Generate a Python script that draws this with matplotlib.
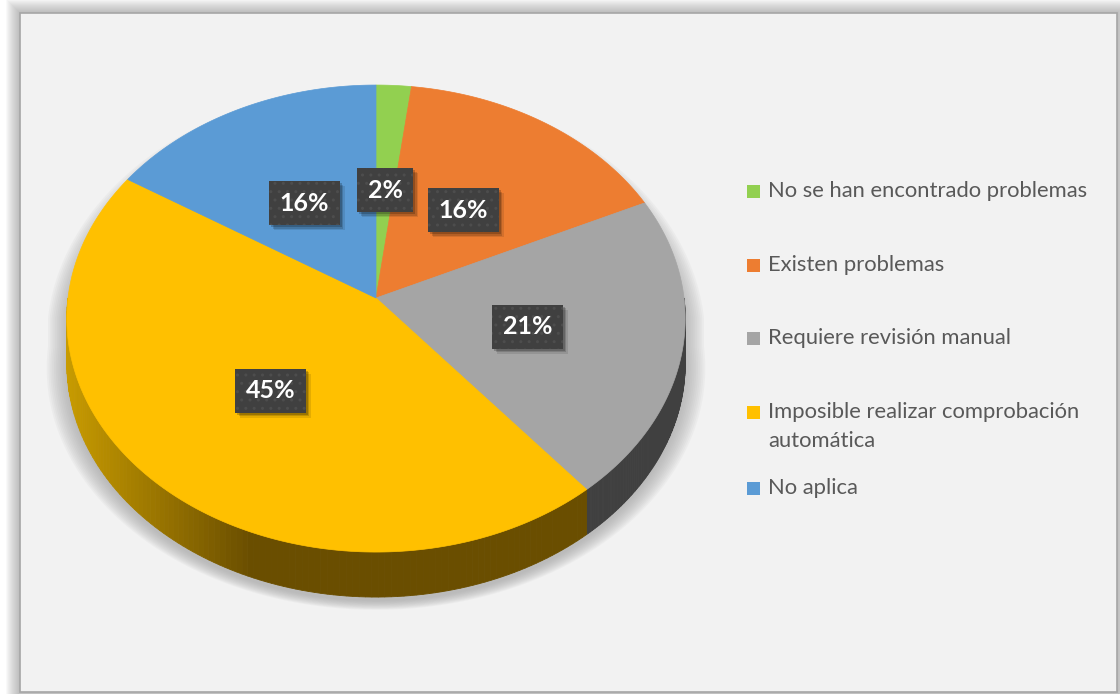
import numpy as np
import matplotlib.pyplot as plt
from matplotlib.patches import Polygon, Rectangle
import matplotlib.colors as mcolors

# data
categories = ["No se han encontrado problemas", "Existen problemas",
              "Requiere revisión manual",
              "Imposible realizar comprobación\nautomática", "No aplica"]
values = [2, 16, 21, 45, 16]
colors = ["#92d050", "#ed7d31", "#a5a5a5", "#ffc000", "#5b9bd5"]
side_colors = ["#5f8a2e", "#8f4a1a", "#404040", "#6a4e00", "#36648f"]

W, H = 1120, 694
fig = plt.figure(figsize=(W / 100, H / 100), dpi=100)
ax = fig.add_axes([0, 0, 1, 1])
ax.set_xlim(0, W)
ax.set_ylim(H, 0)
ax.axis('off')

# frame with soft shadow
px0, py0, px1, py1 = 20, 13, 1117, 692
for i in range(14, 0, -1):
    ax.add_patch(Rectangle((px0 - i, py0 - i), px1 - px0 + 2 * i, py1 - py0 + 2 * i,
                           fc='#7f7f7f', ec='none', alpha=0.045))
ax.add_patch(Rectangle((px0, py0), px1 - px0, py1 - py0, fc='#f2f2f2', ec='#a6a6a6', lw=1.2))

# 3d pie geometry (angle clockwise from 12 o'clock, light perspective)
cx, cy = 376, 298
rx, ry = 308, 231.7
k = 0.088
depth = 45


def project(theta, r=1.0, drx=0.0, dry=0.0):
    u = r * np.sin(theta)
    v = r * np.cos(theta)
    d = 1 + k * v
    return cx + (rx + drx) * u / d, cy - (ry + dry) * v / d


# soft shadow under the pie
for d in np.linspace(20, 0, 12):
    t1 = np.linspace(-np.pi / 2, np.pi / 2, 200)
    t2 = np.linspace(np.pi / 2, 3 * np.pi / 2, 200)
    x1, y1 = project(t1, drx=d, dry=d)
    x2, y2 = project(t2, drx=d, dry=d * 0.4)
    xs = np.concatenate([x1, x2])
    ys = np.concatenate([y1 + 20, y2 + depth + 4])
    ax.add_patch(Polygon(np.column_stack([xs, ys]), fc='#9a9a9a', ec='none', alpha=0.07))

fracs = np.array(values, dtype=float) / sum(values)
bounds = np.concatenate([[0], np.cumsum(fracs)]) * 2 * np.pi

# sides (front half only)
yel_light = np.array(mcolors.to_rgb("#c89b00"))
yel_dark = np.array(mcolors.to_rgb("#6a4e00"))
for i in range(len(values)):
    a0 = max(bounds[i], np.pi / 2)
    a1 = min(bounds[i + 1], 3 * np.pi / 2)
    if a1 <= a0:
        continue
    ts = np.linspace(a0, a1, 120)
    xs, ys = project(ts)
    for j in range(len(ts) - 1):
        c = side_colors[i]
        if colors[i] == "#ffc000":
            xm = 0.5 * (xs[j] + xs[j + 1])
            f = np.clip((xm - 67) / (250 - 67), 0, 1)
            c = yel_light * (1 - f) + yel_dark * f
        quad = [(xs[j], ys[j]), (xs[j + 1], ys[j + 1]),
                (xs[j + 1], ys[j + 1] + depth), (xs[j], ys[j] + depth)]
        ax.add_patch(Polygon(quad, fc=c, ec=c, lw=0.6))

# top faces
for i in range(len(values)):
    ts = np.linspace(bounds[i], bounds[i + 1], 200)
    xs, ys = project(ts)
    pts = np.column_stack([np.concatenate([[cx], xs]), np.concatenate([[cy], ys])])
    ax.add_patch(Polygon(pts, fc=colors[i], ec=colors[i], lw=0.5))

# data labels
label_texts = []
for i, v in enumerate(values):
    mid = 0.5 * (bounds[i] + bounds[i + 1])
    lx, ly = project(mid, r=0.5)
    ly += 3
    t = ax.text(lx, ly, f"{v}%", fontsize=18, fontweight='bold', family='Lato',
                color='white', ha='center', va='center', zorder=5,
                bbox=dict(boxstyle='square,pad=0.42', fc='#404040', ec='#4d4d4d',
                          lw=0, hatch='..'))
    label_texts.append(t)

# drop shadow behind the label boxes
fig.canvas.draw()
inv = ax.transData.inverted()
for t in label_texts:
    bb = t.get_bbox_patch().get_window_extent()
    (x0, y0), (x1, y1) = inv.transform([[bb.x0, bb.y0], [bb.x1, bb.y1]])
    for s, a in [(5, 0.10), (3.5, 0.15), (2, 0.2)]:
        ax.add_patch(Rectangle((min(x0, x1) + s, min(y0, y1) + s), abs(x1 - x0), abs(y1 - y0),
                               fc='black', ec='none', alpha=a, zorder=4))

# legend
leg_y = [191, 265, 338, 412, 488]
for i, lab in enumerate(categories):
    ax.add_patch(Rectangle((747, leg_y[i] - 6.5), 13, 13, fc=colors[i], ec='none'))
    for n, ln in enumerate(lab.split('\n')):
        ax.text(768, leg_y[i] + 29 * n, ln, fontsize=15.8, family='Lato',
                color='#595959', ha='left', va='center')

fig.savefig('out.png', dpi=100)
